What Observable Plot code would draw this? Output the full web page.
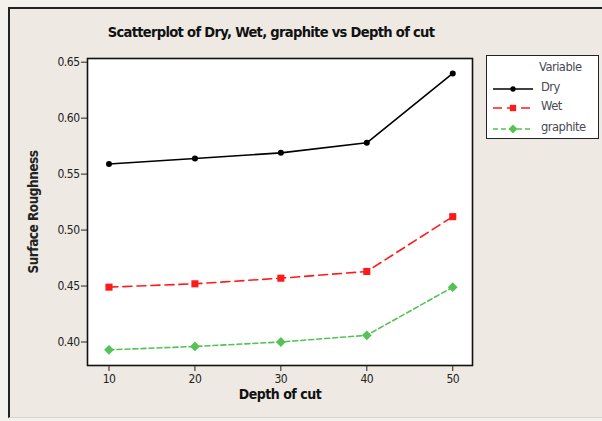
<!DOCTYPE html>
<html><head><meta charset="utf-8">
<script src="https://cdn.jsdelivr.net/npm/d3@7"></script>
<script src="https://cdn.jsdelivr.net/npm/@observablehq/plot@0.6"></script>
<style>
html,body{margin:0;padding:0;background:#f4f1ec;}
#wrap{position:relative;width:602px;height:421px;overflow:hidden;background:#f4f1ec;font-family:"DejaVu Sans Condensed","DejaVu Sans",sans-serif;}
#panel{position:absolute;left:8px;top:7px;width:620px;height:411px;background:#eeeae3;border-left:2px solid #222;border-top:2px solid #222;border-bottom:1px solid #d8d4cc;box-sizing:border-box;}
#chart{position:absolute;left:0;top:0;}
#title{position:absolute;left:0;top:23px;width:542px;text-align:center;font-weight:bold;font-size:14.6px;letter-spacing:-0.7px;color:#111;}
#legend{position:absolute;left:486px;top:55px;width:113px;height:84px;border:1.5px solid #222;box-sizing:border-box;background:#fff;font-size:12.8px;letter-spacing:-0.5px;color:#4a4a55;}
#legend .hd{position:absolute;left:52px;top:3px;}
#legend .row{position:absolute;left:4px;height:14px;}
#legend .row svg{position:absolute;left:0;top:0;}
#legend .row span{position:absolute;left:50px;top:-3px;white-space:nowrap;}
</style></head>
<body>
<div id="wrap">
  <div id="panel"></div>
  <div id="chart"></div>
  <div id="title">Scatterplot of Dry, Wet, graphite vs Depth of cut</div>
  <div id="legend"></div>
</div>
<script>
const depth = [10, 20, 30, 40, 50];
const dry = [0.559, 0.564, 0.569, 0.578, 0.640];
const wet = [0.449, 0.452, 0.457, 0.463, 0.512];
const graphite = [0.393, 0.396, 0.400, 0.406, 0.449];
const seriesNames = ["Dry", "Wet", "graphite"];
const yTicks = [0.40, 0.45, 0.50, 0.55, 0.60, 0.65];
const xTicks = [10, 20, 30, 40, 50];

const styles = {
  Dry: {color: "#000000", dash: null, symbol: "circle", r: 3, rotate: 0},
  Wet: {color: "#ff1a1a", dash: "9,5", symbol: "square", r: 4, rotate: 0},
  graphite: {color: "#55c255", dash: "5,3", symbol: "square", r: 3.9, rotate: 45}
};
const valuesBy = {Dry: dry, Wet: wet, graphite: graphite};
const rows = seriesNames.flatMap(s => depth.map((d, i) => ({series: s, depth: d, value: valuesBy[s][i]})));

const font = "'DejaVu Sans Condensed','DejaVu Sans',sans-serif";
const marks = [Plot.frame({fill: "white"})];
for (const s of seriesNames) {
  const st = styles[s];
  const data = rows.filter(r => r.series === s);
  marks.push(Plot.line(data, {x: "depth", y: "value", stroke: st.color, strokeWidth: 1.6, strokeDasharray: st.dash}));
  marks.push(Plot.dot(data, {x: "depth", y: "value", fill: st.color, symbol: st.symbol, r: st.r, rotate: st.rotate}));
}
marks.push(Plot.frame({stroke: "#111", strokeWidth: 1.6}));
marks.push(Plot.axisY({ticks: yTicks, tickFormat: d3.format(".2f"), tickSize: 6, tickPadding: 2, label: null, fontSize: 12, color: "#222", stroke: "#222"}));
marks.push(Plot.axisX({ticks: xTicks, tickSize: 6, tickPadding: 3, label: null, fontSize: 12, color: "#222"}));
marks.push(Plot.text(["Surface Roughness"], {frameAnchor: "left", textAnchor: "middle", dx: -54, rotate: -90, fontWeight: "bold", fontSize: 13.5, fill: "#222"}));
marks.push(Plot.text(["Depth of cut"], {frameAnchor: "bottom", dy: 33, fontWeight: "bold", fontSize: 14, fill: "#111"}));

const plot = Plot.plot({
  width: 602, height: 421,
  marginLeft: 87, marginRight: 130, marginTop: 58, marginBottom: 56,
  x: {domain: [7.5, 52.3]},
  y: {domain: [0.379, 0.6533]},
  style: {background: "transparent", fontFamily: font, letterSpacing: "-0.5px"},
  marks
});
document.getElementById("chart").appendChild(plot);

// Legend
const leg = document.getElementById("legend");
const hd = document.createElement("div"); hd.className = "hd"; hd.textContent = "Variable"; leg.appendChild(hd);
const tops = [26, 45, 66];
seriesNames.forEach((s, i) => {
  const st = styles[s];
  const row = document.createElement("div"); row.className = "row"; row.style.top = tops[i] + "px";
  const sym = d3.symbol().type({circle: d3.symbolCircle, square: d3.symbolSquare}[st.symbol]).size(st.symbol === "circle" ? 22 : 40)();
  row.innerHTML = `<svg width="46" height="14"><line x1="2" x2="42" y1="7" y2="7" stroke="${st.color}" stroke-width="1.6" ${st.dash ? `stroke-dasharray="${st.dash}"` : ""}/><path transform="translate(22,7) rotate(${st.rotate})" d="${sym}" fill="${st.color}"/></svg><span>${s}</span>`;
  leg.appendChild(row);
});
</script>
</body></html>
